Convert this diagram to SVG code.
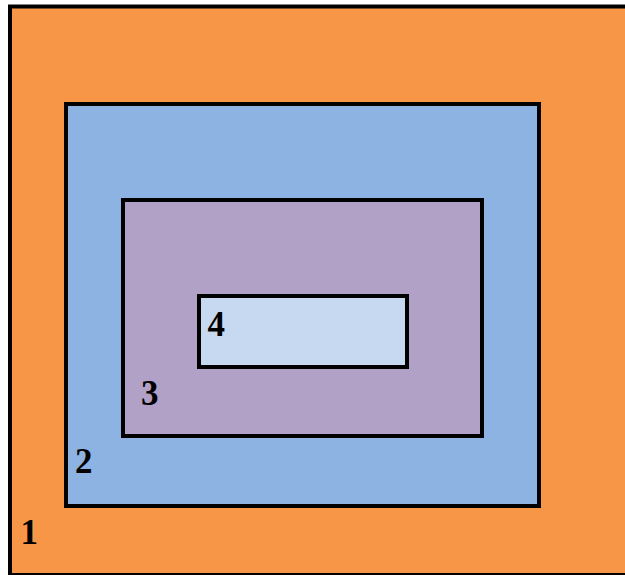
<svg xmlns="http://www.w3.org/2000/svg" width="625" height="575" viewBox="0 0 625 575">
<style>
.box{stroke:#000;stroke-width:4}
.lbl{font-family:"Liberation Serif","Times New Roman",serif;font-weight:bold;font-size:35px;fill:#000}
</style>
<rect width="625" height="575" fill="#fff"/>
<g id="node1">
<rect class="box" x="10" y="6.5" width="630" height="568.5" fill="#F79646"/>
<text class="lbl" x="20.5" y="543.5">1</text>
</g>
<g id="node2">
<rect class="box" x="66" y="104" width="473" height="402" fill="#8DB3E2"/>
<text class="lbl" x="75" y="473">2</text>
</g>
<g id="node3">
<rect class="box" x="123" y="200" width="359" height="236" fill="#B2A1C7"/>
<text class="lbl" x="141" y="405">3</text>
</g>
<g id="node4">
<rect class="box" x="199" y="296" width="208" height="71" fill="#C6D9F1"/>
<text class="lbl" x="207.5" y="335.5">4</text>
</g>
<g id="connectors"/>
</svg>
